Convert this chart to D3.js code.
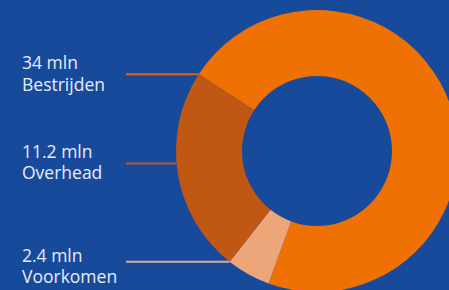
<!DOCTYPE html>
<html>
<head>
<meta charset="utf-8">
<script src="https://cdn.jsdelivr.net/npm/d3@7"></script>
<style>
  html, body { margin: 0; padding: 0; background: #184a9c; overflow: hidden; }
  svg { display: block; }
</style>
</head>
<body>
<svg id="chart" width="449" height="290"></svg>
<script>
// values in mln, as shown in the labels
var categories = ["Bestrijden", "Overhead", "Voorkomen"];
var values = [34, 11.2, 2.4];
var valueLabels = ["34 mln", "11.2 mln", "2.4 mln"];
// order the slices go round the ring (clockwise)
var ringOrder = ["Bestrijden", "Voorkomen", "Overhead"];

var colors = { "Bestrijden": "#ef7003", "Overhead": "#c05813", "Voorkomen": "#eda67a" };
var lineColors = { "Bestrijden": "#d8661c", "Overhead": "#b85a26", "Voorkomen": "#d9ab90" };

var width = 449, height = 290;
var cx = 317, cy = 151;
var outerR = 141, innerR = 75;

var svg = d3.select("#chart");
var g = svg.append("g").attr("transform", "translate(" + cx + "," + cy + ")");

var data = ringOrder.map(function(c) {
  return { name: c, value: values[categories.indexOf(c)] };
});

var start = -57 * Math.PI / 180;
var pie = d3.pie()
  .sort(null)
  .value(function(d) { return d.value; })
  .startAngle(start)
  .endAngle(start + 2 * Math.PI);

var arc = d3.arc().innerRadius(innerR).outerRadius(outerR);
var arcs = pie(data);

g.selectAll("path.slice")
  .data(arcs)
  .enter().append("path")
  .attr("class", "slice")
  .attr("fill", function(d) { return colors[d.data.name]; })
  .attr("d", arc);

// where each leader line touches the ring: a fraction along the slice
var anchorFrac = { "Bestrijden": 0, "Overhead": 0.55, "Voorkomen": 0 };
// Voorkomen line sits on its end edge (shared with Overhead)
var anchorEnd = { "Voorkomen": true };
var labelX = 22, lineX0 = 126;
var baselineShift = { "Bestrijden": -5, "Overhead": -6, "Voorkomen": 0 };

arcs.forEach(function(a) {
  var name = a.data.name;
  var ang = anchorEnd[name] ? a.endAngle : a.startAngle + (a.endAngle - a.startAngle) * anchorFrac[name];
  var px = cx + outerR * Math.sin(ang);
  var py = cy - outerR * Math.cos(ang);

  svg.append("line")
    .attr("x1", lineX0).attr("x2", px)
    .attr("y1", py).attr("y2", py)
    .attr("stroke", lineColors[name])
    .attr("stroke-width", 2);

  var i = categories.indexOf(name);
  [valueLabels[i], name].forEach(function(txt, k) {
    svg.append("text")
      .attr("x", labelX)
      .attr("y", py + baselineShift[name] + k * 21.5)
      .attr("fill", "#e6edf7")
      .style("font-family", "'Open Sans', sans-serif")
      .style("font-size", "17.5px")
      .text(txt);
  });
});
</script>
</body>
</html>
